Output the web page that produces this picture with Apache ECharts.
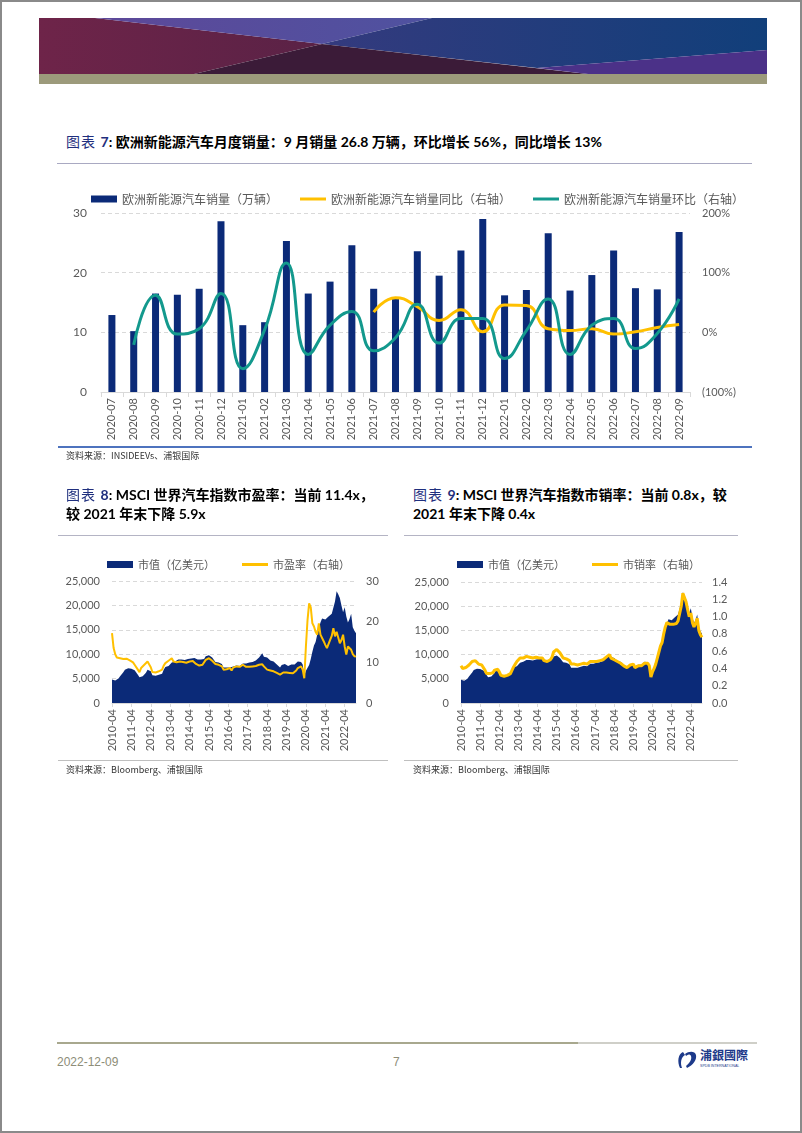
<!DOCTYPE html>
<html><head><meta charset="utf-8">
<script src="https://cdn.jsdelivr.net/npm/echarts@6/dist/echarts.min.js"></script>
<style>
html,body{margin:0;padding:0;background:#fff;}
#page{position:relative;width:802px;height:1133px;overflow:hidden;background:#fff;font-family:Lato,"Noto Sans CJK SC",sans-serif;}
.frame{position:absolute;left:0;top:0;width:802px;height:1133px;box-sizing:border-box;border:2px solid #8a8a8a;pointer-events:none;}
.abs{position:absolute;}
.title{font-weight:bold;font-size:14px;line-height:19px;color:#000;white-space:nowrap;font-family:Lato,"Noto Sans CJK SC",sans-serif;}
.title .lab{color:#1f2f7e;font-weight:normal;letter-spacing:1px;}
.title .num{color:#1f2f7e;}
.src{font-size:9px;line-height:10px;color:#333;white-space:nowrap;font-family:"Noto Sans CJK SC",sans-serif;}
.ln{position:absolute;height:1px;}
</style></head>
<body>
<div id="page">
  <svg class="abs" style="left:39px;top:18px" width="728" height="66" viewBox="0 0 728 66">
    <defs>
      <linearGradient id="gm" x1="0" x2="1" y1="0" y2="0"><stop offset="0" stop-color="#6e2449"/><stop offset="1" stop-color="#5a2246"/></linearGradient>
      <linearGradient id="gb" x1="0" x2="1" y1="0" y2="0"><stop offset="0" stop-color="#343a7e"/><stop offset="1" stop-color="#113f7a"/></linearGradient>
      <linearGradient id="gp" x1="0" x2="1" y1="0" y2="0"><stop offset="0" stop-color="#5d4899"/><stop offset="1" stop-color="#4f52a0"/></linearGradient>
    </defs>
    <polygon points="0,0 56,0 283,26 155,56 0,56" fill="url(#gm)"/>
    <polygon points="56,0 393,0 283,26" fill="url(#gp)"/>
    <polygon points="393,0 728,0 728,32 498,50 283,26" fill="url(#gb)"/>
    <polygon points="155,56 283,26 549,56" fill="#3b1b38"/>
    <polygon points="498,50 728,32 728,56 549,56" fill="#4b3188"/>
    <rect x="0" y="56" width="728" height="10" fill="#9c9a7b"/>
  </svg>

  <div class="abs title" style="left:66px;top:132px"><span class="lab">图表 </span><span class="num">7</span>: 欧洲新能源汽车月度销量：9 月销量 26.8 万辆，环比增长 56%，同比增长 13%</div>
  <div class="ln" style="left:57px;top:163px;width:695px;background:#a9a9c2"></div>
  <div class="abs" id="c1" style="left:40px;top:170px;width:720px;height:280px"></div>
  <div class="ln" style="left:58px;top:446px;width:694px;height:2px;background:#4e73be"></div>
  <div class="abs src" style="left:66px;top:451px">资料来源：INSIDEEVs、浦银国际</div>

  <div class="abs title" style="left:66px;top:485px"><span class="lab">图表 </span><span class="num">8</span>: MSCI 世界汽车指数市盈率：当前 11.4x，<br>较 2021 年末下降 5.9x</div>
  <div class="abs title" style="left:413px;top:485px"><span class="lab">图表 </span><span class="num">9</span>: MSCI 世界汽车指数市销率：当前 0.8x，较<br>2021 年末下降 0.4x</div>
  <div class="ln" style="left:58px;top:535px;width:330px;background:#b4b4c4"></div>
  <div class="ln" style="left:404px;top:535px;width:334px;background:#b4b4c4"></div>
  <div class="abs" id="c2" style="left:40px;top:540px;width:350px;height:215px"></div>
  <div class="abs" id="c3" style="left:400px;top:540px;width:350px;height:215px"></div>
  <div class="ln" style="left:58px;top:760px;width:330px;background:#bfbfbf"></div>
  <div class="ln" style="left:404px;top:760px;width:334px;background:#bfbfbf"></div>
  <div class="abs src" style="left:66px;top:765px">资料来源：Bloomberg、浦银国际</div>
  <div class="abs src" style="left:413px;top:765px">资料来源：Bloomberg、浦银国际</div>

  <div class="ln" style="left:57px;top:1042px;width:521px;height:2px;background:#a8a88e"></div>
  <div class="ln" style="left:578px;top:1042px;width:179px;height:2px;background:#cfcfc8"></div>
  <div class="abs" style="left:57px;top:1055px;font:12px 'Liberation Sans',sans-serif;color:#8d8d78">2022-12-09</div>
  <div class="abs" style="left:393px;top:1055px;font:12px 'Liberation Sans',sans-serif;color:#8d8d78">7</div>
  <svg class="abs" style="left:676px;top:1048px" width="76" height="24" viewBox="0 0 76 24">
    <path d="M7,4 C2,6 1,14 4,20 L6,20 C4,15 5,9 9,7 Z" fill="#1d3a8a"/>
    <path d="M9,6 C13,3 19,3 20,7 C21,12 17,17 11,20 L10,18 C14,15 16,11 15,8 C14,6 12,6 10,8 Z" fill="#1d3a8a"/>
    <text x="24" y="12" font-family="Noto Sans CJK TC" font-weight="bold" font-size="12" fill="#1d3a8a">浦銀國際</text>
    <text x="24" y="19" font-family="Liberation Sans" font-size="3.6" fill="#1d3a8a">SPDB INTERNATIONAL</text>
  </svg>
  <div class="frame"></div>
</div>
<script>
// ---- Chart 7 data ----
const months1 = ['2020-07','2020-08','2020-09','2020-10','2020-11','2020-12','2021-01','2021-02','2021-03','2021-04','2021-05','2021-06','2021-07','2021-08','2021-09','2021-10','2021-11','2021-12','2022-01','2022-02','2022-03','2022-04','2022-05','2022-06','2022-07','2022-08','2022-09'];
const salesVol = [12.9,10.2,16.5,16.3,17.3,28.6,11.2,11.7,25.3,16.5,18.5,24.6,17.3,15.8,23.6,19.5,23.7,29.0,16.2,17.1,26.6,17.0,19.6,23.7,17.4,17.2,26.8];
const yoyPct = [null,null,null,null,null,null,null,null,null,null,null,null,34,58,43,20,38,1,46,45,6,3,6,-3,1,8,13];
const momPct = [null,-21,62,-3,6,65,-61,4,116,-37,12,35,-31,-9,47,-18,23,23,-44,3,56,-37,12,23,-27,-2,56];

// ---- Chart 8/9 data (monthly, 2010-04 .. 2022-11) ----
const tsStart = [2010, 4];
const mktCap = [
  4800,4500,4600,4800,5000,5500,5900,6300,6800,
  7000,7100,6700,7000,6900,6700,6600,5800,5300,5700,5500,5600,
  6200,6800,6900,6500,5700,5500,5600,5700,5800,5700,6000,6800,
  7400,7500,7600,7700,8300,8000,8500,8600,8900,9000,8900,9100,
  8800,8900,9000,9000,9100,9300,9200,8800,8900,8600,8900,8800,
  9000,9600,9900,9800,9600,9300,9200,8400,8100,8300,8400,8000,
  7300,7000,7300,7200,7300,6900,7500,7600,7700,7600,7600,8000,
  8100,8000,8100,8100,8300,8400,8400,8300,8700,9000,9300,9600,
  10200,9500,9300,9300,9100,8700,8800,8500,8600,7900,7800,7300,
  7800,8000,8000,8300,7600,7900,7900,7500,7900,8200,8500,8700,
  8400,7900,5600,6600,7000,7800,9000,10500,11800,12500,14000,15200,
  16500,17300,17000,17100,17300,17700,17600,18300,18600,20800,22900,22300,
  21500,20000,18600,19600,17700,16500,17200,18300,15500,14800,14300
];
const peRatio = [
  17.2,13.5,12.0,11.2,11.4,11.0,11.2,10.8,10.6,
  10.9,10.8,10.5,10.2,10.0,9.4,9.6,8.2,7.6,8.6,8.8,9.4,
  9.8,10.2,9.8,8.8,7.6,7.4,7.5,7.6,7.8,7.6,8.2,9.2,
  9.8,10.0,10.4,10.6,11.0,10.2,10.2,10.0,10.4,10.2,9.8,10.1,
  9.8,9.9,10.1,10.2,10.0,10.3,10.0,9.6,9.7,9.2,9.4,9.4,
  9.8,10.6,11.0,11.0,10.8,10.4,10.5,9.6,9.2,9.4,9.5,9.0,
  8.2,7.8,8.3,8.3,8.6,8.0,8.7,8.9,9.0,8.8,8.9,9.2,
  9.4,9.1,8.9,8.6,8.9,9.0,9.0,8.9,9.1,9.3,9.4,9.6,
  9.5,9.0,8.6,8.2,8.4,8.0,8.1,7.8,7.9,7.4,7.3,7.0,
  7.3,7.5,7.4,7.5,7.1,7.4,7.5,7.3,7.6,8.0,8.6,8.8,
  9.0,8.2,6.1,13.9,20.4,24.5,23.5,19.6,18.8,17.5,16.8,19.6,
  16.8,16.4,15.2,14.3,13.5,13.1,15.5,16.5,18.4,16.4,17.5,17.3,
  14.7,15.5,16.8,13.9,11.9,13.9,13.5,13.1,12.0,11.5,11.4
];
const psRatio = [
  0.43,0.40,0.40,0.41,0.42,0.44,0.46,0.48,0.49,
  0.49,0.47,0.45,0.44,0.44,0.42,0.38,0.34,0.32,0.34,0.34,0.35,
  0.38,0.40,0.39,0.36,0.32,0.31,0.31,0.31,0.32,0.32,0.34,0.38,
  0.42,0.45,0.48,0.48,0.52,0.50,0.52,0.53,0.54,0.54,0.53,0.54,
  0.52,0.53,0.53,0.52,0.52,0.53,0.52,0.49,0.50,0.48,0.50,0.50,
  0.53,0.59,0.61,0.62,0.60,0.58,0.57,0.52,0.50,0.51,0.52,0.49,
  0.45,0.43,0.45,0.44,0.44,0.42,0.45,0.45,0.46,0.45,0.45,0.47,
  0.48,0.47,0.48,0.48,0.48,0.49,0.49,0.48,0.50,0.51,0.53,0.55,
  0.56,0.52,0.50,0.50,0.49,0.48,0.48,0.46,0.46,0.43,0.43,0.41,
  0.43,0.44,0.43,0.45,0.41,0.43,0.43,0.41,0.43,0.45,0.46,0.48,
  0.46,0.43,0.30,0.36,0.40,0.45,0.52,0.59,0.66,0.70,0.80,0.88,
  0.93,0.95,0.91,0.92,0.91,0.93,0.92,0.95,0.97,1.12,1.27,1.22,
  1.17,1.08,1.00,1.04,0.93,0.88,0.92,0.98,0.84,0.79,0.76
];
const monthsTS = [];
for (let i = 0; i < mktCap.length; i++) {
  const t = (tsStart[0] * 12 + tsStart[1] - 1) + i;
  const y = Math.floor(t / 12), m = t % 12 + 1;
  monthsTS.push(y + '-' + (m < 10 ? '0' + m : m));
}

const GREY = '#595959';
const NAVY = '#0b2a78';
const YELLOW = '#FFC000';
const TEAL = '#13998d';
const labelFont = 'Lato';
const cjkFont = 'Noto Sans CJK SC';
const LINE_ICON = 'path://M0,0H26V3H0Z';

function splitDashed() { return { show: true, lineStyle: { color: '#d9d9d9', type: [4, 3], width: 1 } }; }

// ---- Chart 7 ----
const ch1 = echarts.init(document.getElementById('c1'), null, { renderer: 'canvas' });
ch1.setOption({
  animation: false,
  legend: {
    top: 18, left: 46, itemWidth: 26, itemHeight: 7, itemGap: 22,
    textStyle: { fontSize: 12, color: GREY, fontFamily: cjkFont },
    data: [{ name: '欧洲新能源汽车销量（万辆）', icon: 'rect' }, { name: '欧洲新能源汽车销量同比（右轴）', icon: LINE_ICON }, { name: '欧洲新能源汽车销量环比（右轴）', icon: LINE_ICON }]
  },
  grid: { left: 61, right: 70, top: 43, bottom: 58 },
  xAxis: {
    type: 'category', data: months1, boundaryGap: true,
    axisLine: { lineStyle: { color: '#d9d9d9' } },
    axisTick: { show: true, length: 5, lineStyle: { color: '#d9d9d9' } },
    axisLabel: { rotate: 90, interval: 0, fontSize: 11, color: GREY, margin: 6, fontFamily: labelFont }
  },
  yAxis: [
    { type: 'value', min: 0, max: 30, interval: 10, axisLine: { show: false }, axisTick: { show: false },
      axisLabel: { fontSize: 12, color: GREY, margin: 14, fontFamily: labelFont }, splitLine: splitDashed() },
    { type: 'value', min: -100, max: 200, interval: 100, position: 'right', axisLine: { show: false }, axisTick: { show: false },
      splitLine: { show: false },
      axisLabel: { fontSize: 11, color: GREY, margin: 12, fontFamily: labelFont, formatter: v => v < 0 ? '(' + Math.abs(v) + '%)' : v + '%' } }
  ],
  series: [
    { name: '欧洲新能源汽车销量（万辆）', type: 'bar', data: salesVol, barWidth: 7, itemStyle: { color: NAVY }, color: NAVY },
    { name: '欧洲新能源汽车销量同比（右轴）', type: 'line', yAxisIndex: 1, data: yoyPct, smooth: 0.5, symbol: 'none', lineStyle: { width: 3, color: YELLOW }, itemStyle: { color: YELLOW }, color: YELLOW },
    { name: '欧洲新能源汽车销量环比（右轴）', type: 'line', yAxisIndex: 1, data: momPct, smooth: 0.5, symbol: 'none', lineStyle: { width: 3, color: TEAL }, itemStyle: { color: TEAL }, color: TEAL }
  ]
});

function tsOption(ratioName, ratioData, rMax, rInterval, rFmt, legendLeft, gridLeft, gridRight, gridTop, lineW) {
  return {
    animation: false,
    legend: {
      top: 14, left: legendLeft, itemWidth: 26, itemHeight: 7, itemGap: 27,
      textStyle: { fontSize: 11, color: GREY, fontFamily: cjkFont },
      data: [{ name: '市值（亿美元）', icon: 'rect' }, { name: ratioName, icon: LINE_ICON }]
    },
    grid: { left: gridLeft, right: gridRight, top: gridTop, bottom: 52 },
    xAxis: {
      type: 'category', data: monthsTS, boundaryGap: false,
      axisLine: { lineStyle: { color: '#d9d9d9' } },
      axisTick: { show: true, interval: 11, length: 4, lineStyle: { color: '#d9d9d9' } },
      axisLabel: { rotate: 90, interval: 11, fontSize: 11, color: GREY, margin: 6, fontFamily: labelFont }
    },
    yAxis: [
      { type: 'value', min: 0, max: 25000, interval: 5000, axisLine: { show: false }, axisTick: { show: false },
        axisLabel: { fontSize: 11, color: GREY, margin: 12, fontFamily: labelFont, formatter: v => v.toLocaleString('en-US') },
        splitLine: splitDashed() },
      { type: 'value', min: 0, max: rMax, interval: rInterval, position: 'right', axisLine: { show: false }, axisTick: { show: false },
        splitLine: { show: false },
        axisLabel: { fontSize: 11, color: GREY, margin: 10, fontFamily: labelFont, formatter: rFmt } }
    ],
    series: [
      { name: '市值（亿美元）', type: 'line', data: mktCap, symbol: 'none', lineStyle: { width: 0 },
        areaStyle: { color: NAVY, opacity: 1 }, itemStyle: { color: NAVY }, color: NAVY },
      { name: ratioName, type: 'line', yAxisIndex: 1, data: ratioData, symbol: 'none',
        lineStyle: { width: lineW, color: YELLOW }, itemStyle: { color: YELLOW }, color: YELLOW }
    ]
  };
}

const ch2 = echarts.init(document.getElementById('c2'));
ch2.setOption(tsOption('市盈率（右轴）', peRatio, 30, 10, v => String(v), 62, 72, 34, 41, 2));
const ch3 = echarts.init(document.getElementById('c3'));
ch3.setOption(tsOption('市销率（右轴）', psRatio, 1.4, 0.2, v => v.toFixed(1), 52, 61, 48, 42, 3));
</script>
</body></html>
